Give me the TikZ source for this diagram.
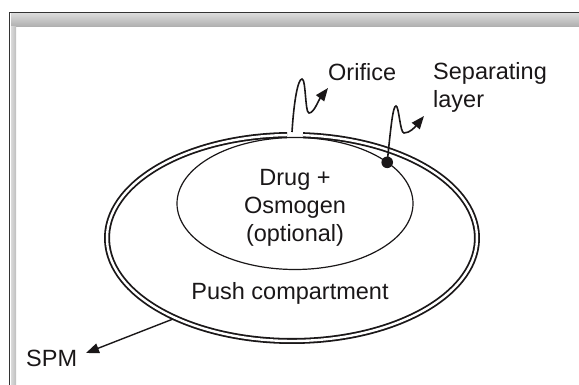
\documentclass[tikz,border=0pt]{standalone}
\usepackage{fontspec}
\setmainfont{Liberation Sans}
\usetikzlibrary{arrows.meta,calc}

\definecolor{ink}{HTML}{1A1718}
\definecolor{framedark}{HTML}{333333}
\definecolor{bandlight}{HTML}{DADADA}
\definecolor{banddark}{HTML}{ADADAD}

\tikzset{
  label text/.style={font=\fontsize{23.5}{28}\selectfont, text=ink, inner sep=0pt},
  outer wall/.style={draw=ink, line width=1.8pt, double=white, double distance=2.4pt},
  inner wall/.style={draw=ink, line width=1.2pt},
  squiggle/.style={draw=ink, line width=1.6pt, -{Triangle[length=13pt,width=10pt]}},
  pointer/.style={draw=ink, line width=1.4pt, -{Triangle[length=13pt,width=10pt]}}
}

\begin{document}
\begin{tikzpicture}[x=1pt,y=1pt]
  \useasboundingbox (0,0) rectangle (579,385);

  % panel frame with its shaded edge
  \shade[top color=bandlight, bottom color=banddark] (11,358) rectangle (579,371.5);
  \shade[left color=bandlight, right color=banddark!80!white] (11,0) rectangle (16,358);
  \draw[framedark, line width=1.6pt] (9.6,0) -- (9.6,372.4) -- (579,372.4);

  % centres of the two compartments
  \coordinate (O) at (292,147);
  \coordinate (I) at (295,181.5);

  % semipermeable membrane with the orifice gap at the top
  \draw[outer wall] (O) ++(91.5:185 and 103)
    arc[start angle=91.5, end angle=446.6, x radius=185, y radius=103];

  % drug compartment
  \draw[inner wall] (I) ellipse[x radius=118, y radius=66];

  % separating layer marker
  \coordinate (seplayer) at ($(I)+(38.6:118 and 66)$);
  \fill[ink] (seplayer) circle (5.8);

  % labels
  \node[label text, anchor=base west] (orifice) at (328,304) {Orifice};
  \node[label text, anchor=base west, align=left] (separating) at (433,277) {Separating\\layer};
  \node[label text, align=center] (drug) at (295,177) {Drug +\\Osmogen\\(optional)};
  \node[label text, anchor=base] (push) at (290,85) {Push compartment};
  \node[label text, anchor=base west] (spm) at (26,18) {SPM};

  % pointers
  \coordinate (orificegap) at (292,253);
  \coordinate (orificetip) at (328,297);
  \draw[squiggle] (orificegap) .. controls (294,285) and (298,306) .. (302,306)
    .. controls (306,306) and (305,272) .. (309,272)
    .. controls (314,272) and (318,284) .. (orificetip);

  \coordinate (septip) at (424,269);
  \draw[squiggle] (seplayer) .. controls (391,260) and (393,279) .. (396,279)
    .. controls (399,279) and (400,252) .. (404,252)
    .. controls (410,252) and (415,258) .. (septip);

  \coordinate (spmstart) at ($(O)+(230.5:187 and 105)$);
  \coordinate (spmtip) at (86,32);
  \draw[pointer] (spmstart) -- (spmtip);
\end{tikzpicture}
\end{document}
